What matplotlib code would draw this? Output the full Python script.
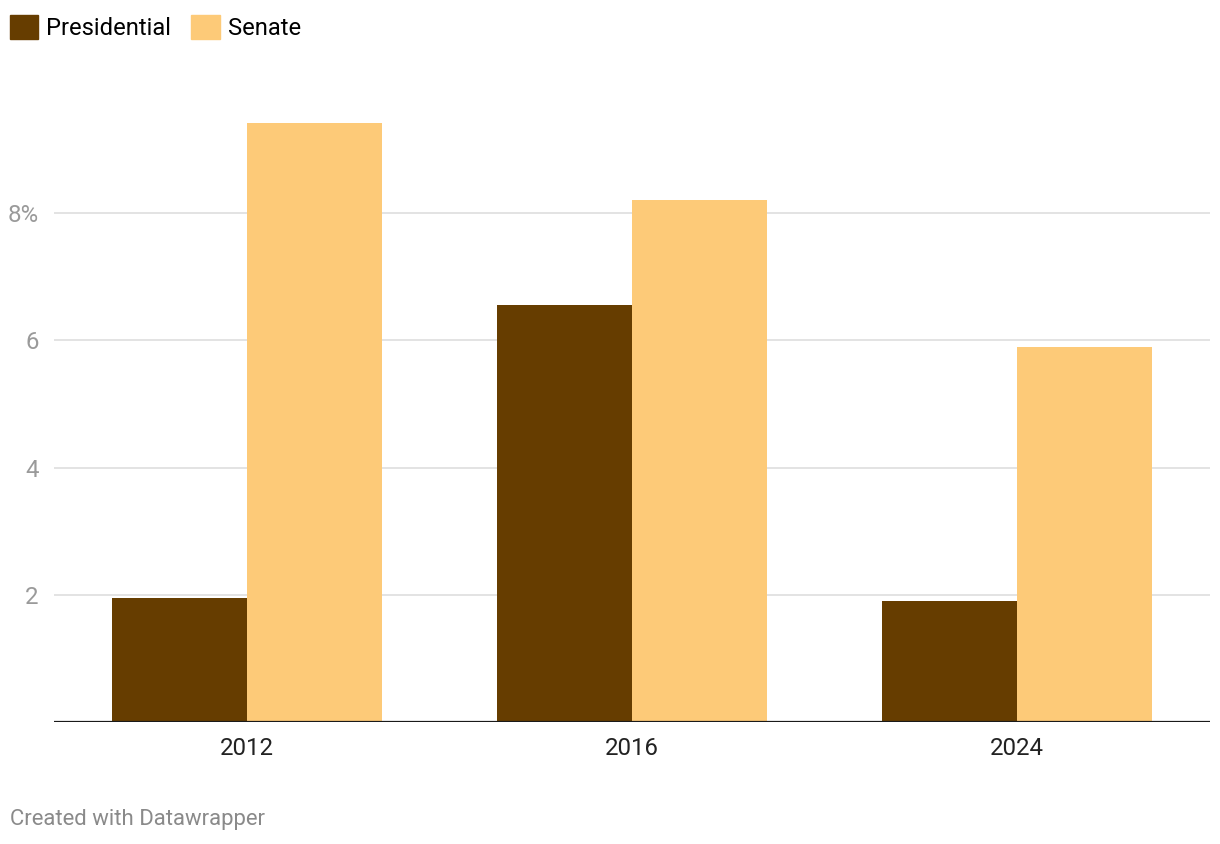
import matplotlib.pyplot as plt
import numpy as np
from matplotlib.patches import Patch

plt.rcParams['font.family'] = ['Roboto', 'DejaVu Sans']

# data
years = ['2012', '2016', '2024']
presidential = [1.95, 6.56, 1.90]
senate = [9.42, 8.21, 5.90]
y_ticks = [2, 4, 6, 8]
y_tick_labels = ['2', '4', '6', '8%']

col_pres = '#663d00'
col_sen = '#fdca78'

fig = plt.figure(figsize=(12.2, 8.44), dpi=100)
ax = fig.add_axes([54 / 1220, 122 / 844, 1156 / 1220, 636 / 844])

x = np.arange(len(years))
w = 0.35
ax.bar(x - w / 2, presidential, w, color=col_pres, zorder=2)
ax.bar(x + w / 2, senate, w, color=col_sen, zorder=2)

ax.set_xlim(-0.5, 2.5)
ax.set_ylim(0, 10)

# grid + baseline
ax.set_yticks(y_ticks)
ax.set_yticklabels(y_tick_labels)
ax.yaxis.grid(True, color='#e3e3e3', lw=1.4, zorder=0)
ax.axhline(0, color='#1a1a1a', lw=1.6, zorder=3)
for s in ax.spines.values():
    s.set_visible(False)

ax.set_xticks(x)
ax.set_xticklabels(years)
ax.tick_params(axis='x', length=0, pad=11, labelsize=17.3, labelcolor='#222222')
ax.tick_params(axis='y', length=0, pad=11, labelsize=17.3, labelcolor='#9a9a9a')

# legend
handles = [Patch(color=col_pres, label='Presidential'), Patch(color=col_sen, label='Senate')]
fig.legend(handles=handles, loc='upper left', bbox_to_anchor=(0.0, 1 - 5 / 844), ncol=2,
           frameon=False, fontsize=17.1, handlelength=1.22, handleheight=1.22,
           handletextpad=0.33, columnspacing=0.83, borderpad=0.2, borderaxespad=0.2)

fig.text(10 / 1220, 1 - 819 / 844, 'Created with Datawrapper', color='#8a8a8a',
         fontsize=15.9, va='center', ha='left')

fig.savefig('out.png', dpi=100, facecolor='white')
